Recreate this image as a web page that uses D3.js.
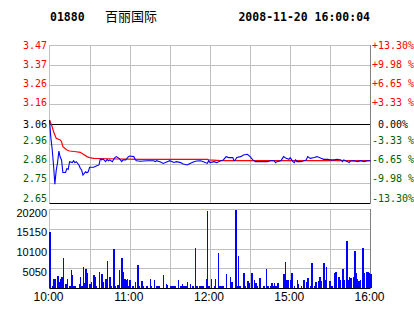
<!DOCTYPE html>
<html>
<head>
<meta charset="utf-8">
<script src="https://cdn.jsdelivr.net/npm/d3@7"></script>
<style>
  body { margin: 0; background: #fff; }
</style>
</head>
<body>
<div id="chart"></div>
<script>
var stockCode = '01880';
var stockName = '百丽国际';
var stamp = '2008-11-20 16:00:04';
var prevClose = 3.06;
var maxPct = 0.133;

var priceLabels = ['3.47', '3.37', '3.26', '3.16', '3.06', '2.96', '2.86', '2.75', '2.65'];
var pctLabels = ['+13.30%', '+9.98 %', '+6.65 %', '+3.33 %', ' 0.00%', '-3.33 %', '-6.65 %', '-9.98 %', '-13.30%'];
var volLabels = ['20200', '15150', '10100', '5050'];
var timeLabels = ['10:00', '11:00', '12:00', '15:00', '16:00'];
var timeTicks = [0, 60, 120, 180, 240];
var gridMinutes = [30, 60, 90, 120, 150, 180, 210];

// trading minutes since 10:00 (12:30-14:30 skipped)
var priceMinutes = [0, 1, 2, 3, 4, 5, 6, 7, 8, 9, 10, 12, 13, 14, 15, 17, 18, 19, 20, 22,
  23, 24, 25, 27, 28, 29, 30, 33, 35, 37, 38, 39, 40, 42, 43, 44, 45, 47, 48, 49,
  50, 52, 53, 54, 55, 57, 58, 59, 60, 63, 64, 65, 68, 73, 78, 79, 80, 83, 85, 88,
  90, 93, 95, 98, 100, 103, 105, 108, 110, 113, 115, 118, 119, 120, 123, 125, 128, 130, 132, 134,
  137, 138, 139, 140, 143, 145, 148, 150, 152, 154, 158, 163, 165, 168, 169, 170, 173, 175, 177, 179,
  180, 182, 183, 184, 185, 188, 192, 193, 195, 198, 200, 203, 205, 208, 210, 213, 215, 218, 219, 220,
  223, 224, 225, 228, 230, 233, 235, 238, 240];
var prices = [3.08, 2.99, 2.93, 2.85, 2.75, 2.82, 2.86, 2.92, 2.89, 2.875, 2.81, 2.81, 2.83, 2.826, 2.866, 2.861, 2.871, 2.861, 2.866, 2.849,
  2.832, 2.823, 2.797, 2.814, 2.809, 2.814, 2.837, 2.837, 2.844, 2.849, 2.88, 2.875, 2.88, 2.866, 2.878, 2.871, 2.875, 2.866, 2.878, 2.888,
  2.892, 2.883, 2.875, 2.866, 2.875, 2.875, 2.883, 2.892, 2.895, 2.892, 2.878, 2.871, 2.868, 2.871, 2.871, 2.866, 2.871, 2.864, 2.857, 2.866,
  2.871, 2.862, 2.866, 2.861, 2.854, 2.849, 2.857, 2.866, 2.869, 2.871, 2.866, 2.857, 2.871, 2.861, 2.866, 2.861, 2.871, 2.875, 2.892, 2.887,
  2.887, 2.871, 2.875, 2.888, 2.892, 2.9, 2.904, 2.892, 2.875, 2.866, 2.866, 2.866, 2.871, 2.871, 2.861, 2.866, 2.871, 2.892, 2.883, 2.878,
  2.887, 2.866, 2.861, 2.875, 2.866, 2.866, 2.875, 2.892, 2.883, 2.887, 2.892, 2.883, 2.878, 2.878, 2.875, 2.875, 2.878, 2.875, 2.866, 2.875,
  2.866, 2.861, 2.869, 2.871, 2.866, 2.871, 2.866, 2.871, 2.871];

var avgMinutes = [0, 2, 3, 4, 5, 8, 9, 10, 13, 15, 20, 23, 25, 28, 30, 33, 43, 68, 118, 119, 128, 240];
var avgPrices = [3.081, 3.046, 3.021, 3.003, 2.986, 2.978, 2.969, 2.943, 2.926, 2.921, 2.917, 2.914, 2.905, 2.892, 2.887, 2.883, 2.881, 2.878, 2.878, 2.875, 2.871, 2.871];

var volMinutes = [0, 2, 3, 4, 6, 7, 8, 9, 10, 12, 13, 15, 16, 17, 18, 19, 22, 23, 24, 25,
  26, 27, 28, 30, 31, 33, 34, 35, 37, 39, 40, 42, 43, 45, 46, 48, 49, 51, 52, 54,
  55, 56, 57, 58, 59, 60, 62, 64, 66, 67, 69, 70, 72, 73, 75, 76, 78, 80, 81, 82,
  85, 87, 88, 90, 91, 92, 93, 94, 96, 98, 99, 100, 101, 102, 103, 105, 107, 109, 110, 112,
  113, 114, 115, 117, 118, 119, 121, 123, 124, 126, 127, 128, 129, 130, 132, 135, 136, 139, 140, 141,
  142, 145, 146, 148, 149, 151, 153, 154, 155, 157, 160, 162, 163, 165, 166, 167, 168, 169, 170, 171,
  175, 176, 177, 178, 180, 181, 183, 185, 186, 188, 190, 192, 193, 195, 196, 198, 199, 201, 202, 203,
  205, 206, 207, 209, 210, 211, 213, 214, 216, 217, 219, 220, 222, 223, 224, 225, 227, 228, 229, 230,
  231, 232, 234, 235, 237, 238, 239, 240];
var volumes = [14200, 600, 2200, 2200, 3000, 1500, 2400, 2700, 7700, 1000, 2200, 400, 4550, 3270, 400, 400, 1100, 2900, 400, 5330,
  1300, 4900, 3870, 1000, 1500, 3270, 2900, 400, 4120, 3500, 1500, 2400, 6880, 2900, 400, 9970, 400, 800, 4600, 7700,
  4200, 2200, 2000, 2200, 400, 2000, 400, 1500, 5850, 600, 1700, 600, 400, 600, 2200, 400, 2000, 400, 400, 400,
  3270, 1000, 800, 400, 400, 400, 400, 400, 2000, 600, 1000, 400, 400, 400, 1500, 1000, 400, 10220, 400, 400,
  400, 400, 400, 2200, 19750, 400, 2200, 400, 2200, 8930, 400, 400, 400, 400, 3530, 2900, 1500, 19900, 600, 8170,
  600, 3800, 400, 1700, 1300, 3800, 2000, 1300, 600, 2500, 600, 4820, 600, 600, 1300, 600, 1300, 600, 1300, 1300,
  3530, 6620, 2000, 2000, 2000, 3800, 400, 2000, 1000, 400, 2000, 1500, 2500, 600, 6360, 600, 1500, 1700, 2900, 1700,
  6360, 2000, 5320, 1700, 1700, 400, 3800, 4100, 2900, 2000, 4900, 2000, 12020, 2000, 2900, 2500, 2700, 9380, 3800, 2200,
  1700, 2000, 10220, 3800, 4100, 4100, 3800, 3530];

var W = 414, H = 314;
var left = 49.5, right = 370.5;
var pTop = 45, pBot = 203, vTop = 209, vBot = 288;
var green = '#006000';
var mono = '"DejaVu Sans Mono", monospace';
var sans = '"Liberation Sans", Arial, sans-serif';

var svg = d3.select('#chart')
  .append('svg')
  .attr('width', W)
  .attr('height', H);

var x = d3.scaleLinear().domain([0, 240]).range([left, right]);
var yP = d3.scaleLinear()
  .domain([prevClose * (1 - maxPct), prevClose * (1 + maxPct)])
  .range([pBot, pTop]);
var yV = d3.scaleLinear().domain([0, 20200]).range([vBot, vTop]);
// tick labels sit a little tighter than the grid lines
var yLabel = d3.scaleLinear().domain([4, -4]).range([pTop + 0.5, pBot - 5]);

function tickColor(k) {
  return k > 0 ? '#ff0000' : (k < 0 ? green : '#000');
}
function labelY(k) {
  return k === 0 ? yP(prevClose) : yLabel(k);
}

// header
svg.append('text').text(stockCode)
  .attr('x', 50).attr('y', 21)
  .attr('font-family', mono).attr('font-weight', 'bold').attr('font-size', '11.5px');
svg.append('text').text(stockName)
  .attr('x', 105).attr('y', 21)
  .attr('font-family', '"Noto Sans CJK SC", sans-serif').attr('font-size', '13px');
svg.append('text').text(stamp)
  .attr('x', 370).attr('y', 21).attr('text-anchor', 'end')
  .attr('font-family', mono).attr('font-weight', 'bold').attr('font-size', '11.5px');

// price panel grid
var steps = d3.range(4, -5, -1);
var priceTicks = steps.map(function(k) { return prevClose * (1 + k * maxPct / 4); });

svg.append('g').selectAll('line')
  .data(gridMinutes)
  .enter()
  .append('line')
  .attr('x1', function(d) { return Math.round(x(d)) + 0.5; })
  .attr('x2', function(d) { return Math.round(x(d)) + 0.5; })
  .attr('y1', pTop).attr('y2', pBot)
  .attr('stroke', '#c0c0c0');

svg.append('g').selectAll('line')
  .data(priceTicks)
  .enter()
  .append('line')
  .attr('x1', left).attr('x2', right)
  .attr('y1', function(d) { return Math.round(yP(d)) + 0.5; })
  .attr('y2', function(d) { return Math.round(yP(d)) + 0.5; })
  .attr('stroke', function(d, i) { return (steps[i] === 0 || i === 8) ? '#000' : '#c0c0c0'; });

svg.append('line').attr('x1', left).attr('x2', left).attr('y1', pTop).attr('y2', pBot).attr('stroke', '#c0c0c0');
svg.append('line').attr('x1', right).attr('x2', right).attr('y1', pTop).attr('y2', pBot).attr('stroke', '#808080');

svg.append('g').selectAll('text')
  .data(priceLabels)
  .enter()
  .append('text')
  .text(function(d) { return d; })
  .attr('x', 47)
  .attr('y', function(d, i) { return labelY(steps[i]); })
  .attr('dy', '0.35em')
  .attr('text-anchor', 'end')
  .attr('font-family', mono).attr('font-size', '10px')
  .attr('fill', function(d, i) { return tickColor(steps[i]); });

svg.append('g').selectAll('text')
  .data(pctLabels)
  .enter()
  .append('text')
  .text(function(d) { return d; })
  .attr('x', 372)
  .attr('y', function(d, i) { return labelY(steps[i]); })
  .attr('dy', '0.35em')
  .attr('xml:space', 'preserve')
  .style('white-space', 'pre')
  .attr('font-family', mono).attr('font-size', '10px')
  .attr('fill', function(d, i) { return tickColor(steps[i]); });

// price + average lines
var line = d3.line()
  .x(function(d) { return x(d[0]); })
  .y(function(d) { return yP(d[1]); });

svg.append('path')
  .datum(d3.zip(avgMinutes, avgPrices))
  .attr('d', line)
  .attr('fill', 'none')
  .attr('stroke', '#ff0000')
  .attr('stroke-width', 1.2);

svg.append('path')
  .datum(d3.zip(priceMinutes, prices))
  .attr('d', line)
  .attr('fill', 'none')
  .attr('stroke', '#0000ff')
  .attr('stroke-width', 1.1);

// volume panel
var volTicks = volLabels.map(function(d) { return +d; });

svg.append('g').selectAll('line')
  .data(gridMinutes)
  .enter()
  .append('line')
  .attr('x1', function(d) { return Math.round(x(d)) + 0.5; })
  .attr('x2', function(d) { return Math.round(x(d)) + 0.5; })
  .attr('y1', vTop).attr('y2', vBot)
  .attr('stroke', '#c0c0c0');

svg.append('g').selectAll('line')
  .data(volTicks)
  .enter()
  .append('line')
  .attr('x1', left).attr('x2', right)
  .attr('y1', function(d) { return Math.round(yV(d)) + 0.5; })
  .attr('y2', function(d) { return Math.round(yV(d)) + 0.5; })
  .attr('stroke', '#c0c0c0');

svg.append('line').attr('x1', left).attr('x2', left).attr('y1', vTop).attr('y2', vBot).attr('stroke', '#c0c0c0');
svg.append('line').attr('x1', right).attr('x2', right).attr('y1', vTop).attr('y2', vBot).attr('stroke', '#808080');

svg.append('g').selectAll('rect')
  .data(d3.zip(volMinutes, volumes))
  .enter()
  .append('rect')
  .attr('x', function(d) { return x(d[0]) - 0.3; })
  .attr('y', function(d) { return yV(d[1]); })
  .attr('width', 1.4)
  .attr('height', function(d) { return yV(0) - yV(d[1]); })
  .attr('fill', '#0000ff')
  .attr('shape-rendering', 'crispEdges');

svg.append('line').attr('x1', left).attr('x2', right)
  .attr('y1', vBot + 0.5).attr('y2', vBot + 0.5).attr('stroke', '#000');

svg.append('g').selectAll('text')
  .data(volLabels)
  .enter()
  .append('text')
  .text(function(d) { return d; })
  .attr('x', 47)
  .attr('y', function(d) { return yV(+d) + 7.5; })
  .attr('text-anchor', 'end')
  .attr('font-family', sans).attr('font-size', '11px')
  .attr('fill', '#000');

svg.append('g').selectAll('text')
  .data(timeLabels)
  .enter()
  .append('text')
  .text(function(d) { return d; })
  .attr('x', function(d, i) { return x(timeTicks[i]) - 1; })
  .attr('y', 301)
  .attr('text-anchor', 'middle')
  .attr('font-family', sans).attr('font-size', '12px')
  .attr('fill', '#000');
</script>
</body>
</html>
